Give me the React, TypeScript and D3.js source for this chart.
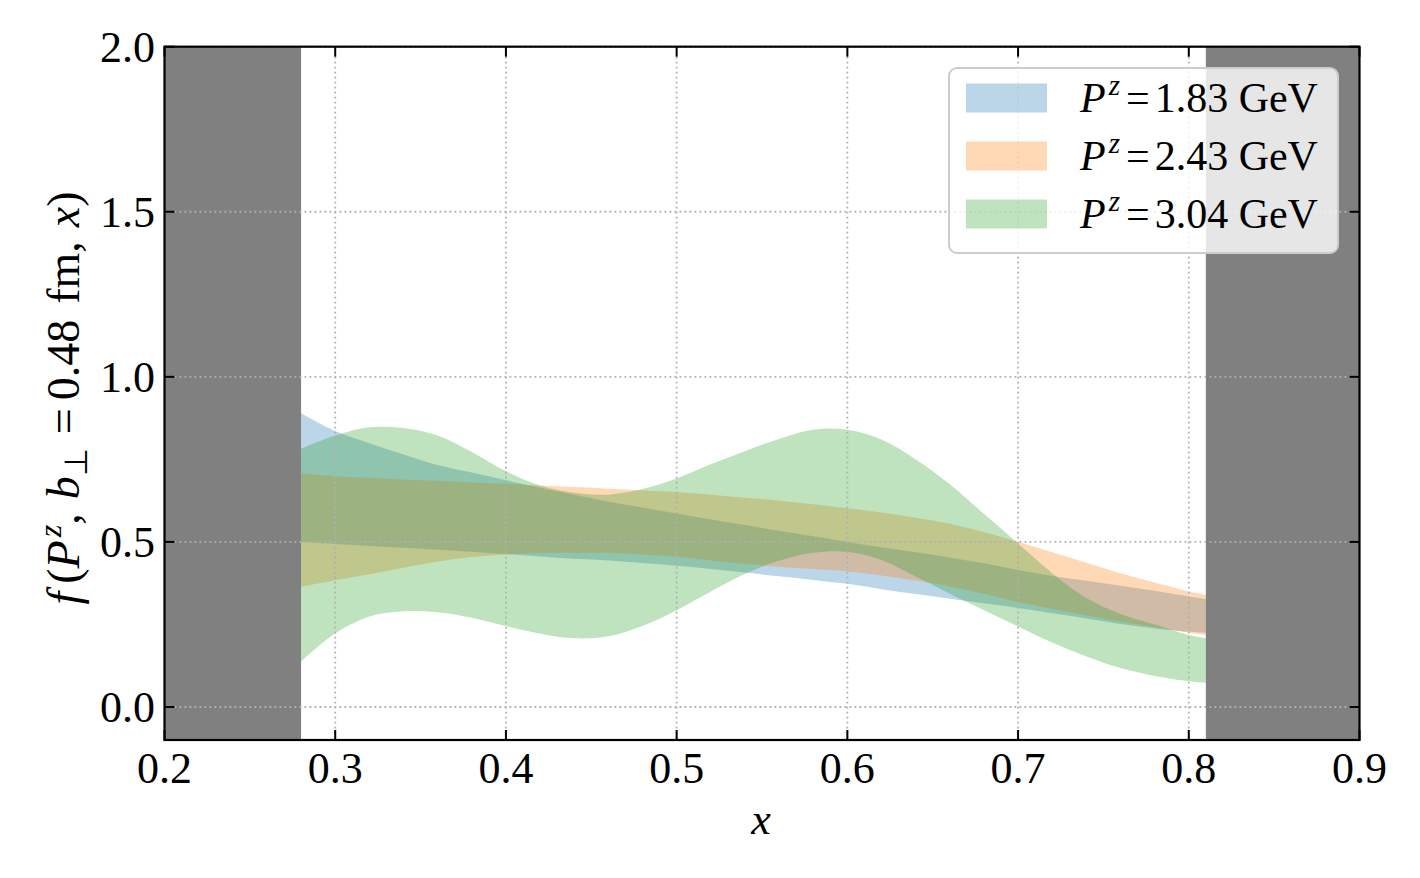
import React from "react";
import * as d3 from "d3";

const xs = [0.28, 0.30, 0.32, 0.34, 0.36, 0.38, 0.40, 0.42, 0.44, 0.46, 0.48, 0.50, 0.52, 0.54, 0.56, 0.58, 0.60, 0.62, 0.64, 0.66, 0.68, 0.70, 0.72, 0.74, 0.76, 0.78, 0.80, 0.81];

const blueUpper = [0.89, 0.836, 0.799, 0.765, 0.733, 0.71, 0.687, 0.664, 0.643, 0.622, 0.604, 0.586, 0.568, 0.551, 0.534, 0.517, 0.5, 0.484, 0.469, 0.453, 0.435, 0.415, 0.397, 0.382, 0.367, 0.352, 0.335, 0.327];
const blueLower = [0.5, 0.494, 0.488, 0.482, 0.476, 0.47, 0.463, 0.456, 0.449, 0.444, 0.436, 0.428, 0.418, 0.407, 0.396, 0.385, 0.373, 0.357, 0.342, 0.328, 0.314, 0.3, 0.284, 0.268, 0.251, 0.238, 0.228, 0.225];

const orangeUpper = [0.708, 0.699, 0.694, 0.689, 0.685, 0.68, 0.676, 0.671, 0.666, 0.661, 0.656, 0.651, 0.643, 0.634, 0.625, 0.614, 0.602, 0.589, 0.573, 0.555, 0.53, 0.5, 0.469, 0.437, 0.405, 0.377, 0.35, 0.34];
const orangeLower = [0.364, 0.384, 0.402, 0.422, 0.441, 0.454, 0.463, 0.466, 0.467, 0.467, 0.462, 0.455, 0.444, 0.433, 0.425, 0.418, 0.411, 0.398, 0.383, 0.365, 0.343, 0.318, 0.297, 0.277, 0.258, 0.242, 0.225, 0.218];

const greenUpper = [0.782, 0.822, 0.847, 0.845, 0.822, 0.772, 0.714, 0.671, 0.649, 0.643, 0.66, 0.692, 0.735, 0.775, 0.812, 0.84, 0.84, 0.81, 0.75, 0.675, 0.585, 0.495, 0.405, 0.33, 0.282, 0.25, 0.218, 0.208];
const greenLower = [0.137, 0.223, 0.274, 0.29, 0.287, 0.27, 0.245, 0.222, 0.208, 0.214, 0.245, 0.293, 0.35, 0.403, 0.443, 0.467, 0.47, 0.445, 0.395, 0.343, 0.293, 0.244, 0.195, 0.153, 0.118, 0.094, 0.078, 0.073];

const seriesLabels = ["1.83", "2.43", "3.04"];
const seriesColors = ["#1f77b4", "#ff7f0e", "#2ca02c"];
const xTicks = [0.2, 0.3, 0.4, 0.5, 0.6, 0.7, 0.8, 0.9];
const yTicks = [0.0, 0.5, 1.0, 1.5, 2.0];
const excluded: [number, number][] = [[0.2, 0.28], [0.81, 0.9]];

const W = 1420;
const H = 878;
const L = 164.5, R = 1359.5, T = 46.7, B = 740;

const FONT = "'Liberation Serif', 'Times New Roman', serif";

export default function App() {
  const x = d3.scaleLinear().domain([0.2, 0.9]).range([L, R]);
  const y = d3.scaleLinear().domain([-0.1, 2.0]).range([B, T]);

  const bands = [
    { lo: blueLower, hi: blueUpper },
    { lo: orangeLower, hi: orangeUpper },
    { lo: greenLower, hi: greenUpper },
  ];

  const area = (lo: number[], hi: number[]) =>
    d3
      .area<number>()
      .x((_, i) => x(xs[i]))
      .y0((_, i) => y(lo[i]))
      .y1((_, i) => y(hi[i]))
      .curve(d3.curveCatmullRom.alpha(0.5))(xs) || "";

  const tickLen = 10;
  const fs = 44;
  const yfs = 46;

  return (
    <svg
      width={W}
      height={H}
      style={{ position: "absolute", left: 0, top: 0, display: "block", background: "#fff" }}
      fontFamily={FONT}
    >
      <rect x={0} y={0} width={W} height={H} fill="#fff" />
      {excluded.map(([a, b], i) => (
        <rect key={"ex" + i} x={x(a)} y={T} width={x(b) - x(a)} height={B - T} fill="#808080" />
      ))}
      {bands.map((b, i) => (
        <path key={"band" + i} d={area(b.lo, b.hi)} fill={seriesColors[i]} fillOpacity={0.3} stroke="none" />
      ))}
      {xTicks.slice(1, -1).map((t) => (
        <line key={"gx" + t} x1={x(t)} x2={x(t)} y1={T} y2={B} stroke="#b0b0b0" strokeWidth={1.8} strokeDasharray="1.8,3.2" />
      ))}
      {yTicks.map((t) => (
        <line key={"gy" + t} x1={L} x2={R} y1={y(t)} y2={y(t)} stroke="#b0b0b0" strokeWidth={1.8} strokeDasharray="1.8,3.2" />
      ))}
      {xTicks.map((t) => (
        <g key={"tx" + t}>
          <line x1={x(t)} x2={x(t)} y1={B} y2={B - tickLen} stroke="#000" strokeWidth={2} />
          <line x1={x(t)} x2={x(t)} y1={T} y2={T + tickLen} stroke="#000" strokeWidth={2} />
          <text x={x(t)} y={783} textAnchor="middle" fontSize={fs} fill="#000">
            {t.toFixed(1)}
          </text>
        </g>
      ))}
      {yTicks.map((t) => (
        <g key={"ty" + t}>
          <line x1={L} x2={L + tickLen} y1={y(t)} y2={y(t)} stroke="#000" strokeWidth={2} />
          <line x1={R} x2={R - tickLen} y1={y(t)} y2={y(t)} stroke="#000" strokeWidth={2} />
          <text x={155} y={y(t) + 15} textAnchor="end" fontSize={fs} fill="#000">
            {t.toFixed(1)}
          </text>
        </g>
      ))}
      <rect x={L} y={T} width={R - L} height={B - T} fill="none" stroke="#000" strokeWidth={2.2} />

      <text x={761} y={834} textAnchor="middle" fontSize={fs} fontStyle="italic" fill="#000">
        x
      </text>
      <text
        transform="translate(79,398) rotate(-90)"
        textAnchor="middle"
        fontSize={yfs}
        fill="#000"
      >
        <tspan fontStyle="italic">f</tspan>
        <tspan dx={8}>(</tspan>
        <tspan fontStyle="italic">P</tspan>
        <tspan fontStyle="italic" fontSize={yfs * 0.7} dy={-18} dx={3}>z</tspan>
        <tspan dy={18}>,</tspan>
        <tspan fontStyle="italic" dx={14}>b</tspan>
        <tspan fontSize={yfs * 0.7} dy={8}>⊥</tspan>
        <tspan dy={-8} dx={14}>=</tspan>
        <tspan dx={8}>0.48</tspan>
        <tspan dx={16}>fm,</tspan>
        <tspan fontStyle="italic" dx={14}>x</tspan>
        <tspan>)</tspan>
      </text>

      <rect x={949} y={68} width={389} height={185} rx={8} ry={8} fill="#fff" fillOpacity={0.8} stroke="#cccccc" strokeWidth={2} />
      {seriesLabels.map((lab, i) => {
        const cy = 98 + i * 58;
        return (
          <g key={"lg" + i}>
            <rect x={966} y={cy - 14.5} width={81} height={29} fill={seriesColors[i]} fillOpacity={0.3} />
            <text x={1080} y={cy + 14} fontSize={42} fill="#000">
              <tspan fontStyle="italic">P</tspan>
              <tspan fontStyle="italic" fontSize={29} dy={-17} dx={3}>z</tspan>
              <tspan dy={17} dx={6}>=</tspan>
              <tspan dx={5}>{lab} GeV</tspan>
            </text>
          </g>
        );
      })}
    </svg>
  );
}
